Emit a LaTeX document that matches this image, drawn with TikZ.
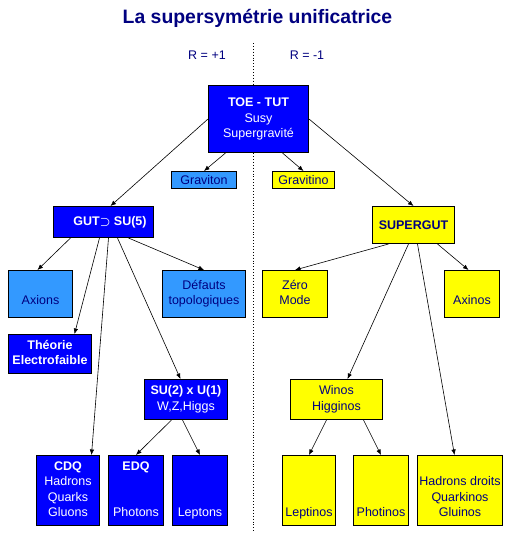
\documentclass[tikz,border=0pt]{standalone}
\usepackage{fontspec}
\setmainfont{Liberation Sans}
\usetikzlibrary{arrows.meta,calc}
\definecolor{navy}{RGB}{0,0,128}
\definecolor{dblue}{RGB}{0,0,255}
\definecolor{lblue}{RGB}{51,153,255}
\definecolor{yel}{RGB}{255,255,0}
\newcommand\bt[1]{{\bfseries #1}}
\begin{document}
\begin{tikzpicture}[x=1pt,y=-1pt,
  box/.style={draw=black,line width=1pt,anchor=north west,inner sep=0pt,align=center,
    font=\fontsize{12.5}{15.5}\selectfont},
  dbox/.style={box,fill=dblue,text=white},
  lbox/.style={box,fill=lblue,text=navy},
  ybox/.style={box,fill=yel,text=navy},
  lbl/.style={inner sep=0pt,text=navy,font=\fontsize{12.5}{15}\selectfont},
  arr/.style={line width=0.6pt,-{Latex[length=5.5pt,width=4.5pt]}},
]
\fill[white] (0,0) rectangle (515,539);
\useasboundingbox (0,0) rectangle (515,539);

% title and R labels
\node[inner sep=0pt,text=navy,font=\fontsize{19.4}{22}\selectfont\bfseries] (title) at (257.5,18) {La supersymétrie unificatrice};
\node[lbl] (rplus) at (207,55) {R = +1};
\node[lbl] (rminus) at (307,55) {R = -1};

% dotted separator
\coordinate (dtop) at (253,43);
\coordinate (dbot) at (253,533);
\draw[dotted,line width=0.9pt] (dtop) -- (dbot);

% top
\node[dbox,minimum width=100pt,minimum height=67pt] (toe) at (208,85)
  {\strut\bt{TOE - TUT}\\\strut Susy\\\strut Supergravité};
\node[lbox,minimum width=65pt,minimum height=17pt] (graviton) at (171,171) {Graviton};
\node[ybox,minimum width=62pt,minimum height=17pt] (gravitino) at (272,171) {Gravitino};

% left side
\node[dbox,minimum width=100pt,minimum height=31pt] (gut) at (53,206)
  {\hspace*{13pt}\bt{GUT{\boldmath$\supset$} SU(5)}};
\node[lbox,minimum width=64pt,minimum height=47pt] (axions) at (8,270)
  {\strut\\\strut Axions};
\node[lbox,minimum width=83pt,minimum height=47pt] (defauts) at (162,270)
  {\strut Défauts\\\strut topologiques};
\node[dbox,minimum width=83pt,minimum height=39pt] (theorie) at (8,334)
  {\strut\bt{Théorie}\\\strut\bt{Electrofaible}};
\node[dbox,minimum width=83pt,minimum height=40pt] (su2) at (144,379)
  {\strut\bt{SU(2) x U(1)}\\\strut W,Z,Higgs};
\node[dbox,minimum width=63pt,minimum height=70pt] (cdq) at (36,455)
  {\strut\bt{CDQ}\\\strut Hadrons\\\strut Quarks\\\strut Gluons};
\node[dbox,minimum width=55pt,minimum height=70pt] (edq) at (108,455)
  {\strut\bt{EDQ}\\\strut\\\strut\\\strut Photons};
\node[dbox,minimum width=55pt,minimum height=70pt] (leptons) at (172,455)
  {\strut\\\strut\\\strut\\\strut Leptons};

% right side
\node[ybox,minimum width=82pt,minimum height=37pt] (supergut) at (372,206)
  {\bt{SUPERGUT}};
\node[ybox,minimum width=65pt,minimum height=47pt] (zero) at (262,270)
  {\strut Zéro\\\strut Mode};
\node[ybox,minimum width=55pt,minimum height=47pt] (axinos) at (444,270)
  {\strut\\\strut Axinos};
\node[ybox,minimum width=92pt,minimum height=40pt] (winos) at (290,379)
  {\strut Winos\\\strut Higginos};
\node[ybox,minimum width=53pt,minimum height=70pt] (leptinos) at (282,455)
  {\strut\\\strut\\\strut\\\strut Leptinos};
\node[ybox,minimum width=55pt,minimum height=70pt] (photinos) at (353,455)
  {\strut\\\strut\\\strut\\\strut Photinos};
\node[ybox,minimum width=85pt,minimum height=70pt] (hadrons) at (417,455)
  {\strut\\\strut Hadrons droits\\\strut Quarkinos\\\strut Gluinos};

% connectors
\draw[arr] (toe.west) -- ([xshift=7pt]gut.north);
\draw[arr] (toe.east) -- (supergut.north);
\draw[arr] ([xshift=-33pt]toe.south) -- (graviton.north);
\draw[arr] ([xshift=24pt]toe.south) -- (gravitino.north);

\draw[arr] ([xshift=-33pt]gut.south) -- ([xshift=-3pt]axions.north);
\draw[arr] ([xshift=25pt]gut.south) -- (defauts.north);
\draw[arr] ([xshift=-4pt]gut.south) -- ([xshift=24.5pt]theorie.north);
\draw[arr] ([xshift=5pt]gut.south) -- ([xshift=23.5pt]cdq.north);
\draw[arr] ([xshift=14pt]gut.south) -- ([xshift=-5.5pt]su2.north);
\draw[arr] ([xshift=-14.5pt]su2.south) -- (edq.north);
\draw[arr] ([xshift=-3.5pt]su2.south) -- (leptons.north);

\draw[arr] ([xshift=-25pt]supergut.south) -- (zero.north);
\draw[arr] ([xshift=24pt]supergut.south) -- ([xshift=-3.5pt]axinos.north);
\draw[arr] ([xshift=-5pt]supergut.south) -- ([xshift=11pt]winos.north);
\draw[arr] ([xshift=4pt]supergut.south) -- ([xshift=-5.5pt]hadrons.north);
\draw[arr] ([xshift=-10pt]winos.south) -- (leptinos.north);
\draw[arr] ([xshift=27pt]winos.south) -- (photinos.north);
\end{tikzpicture}
\end{document}
